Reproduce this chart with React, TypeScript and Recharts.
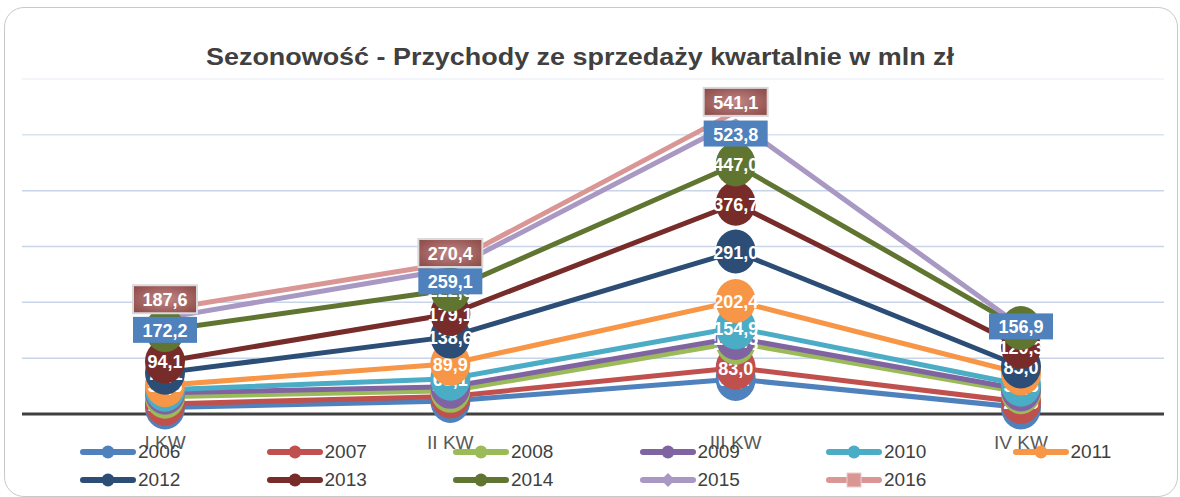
import React from "react";
import { LineChart, Line, XAxis, YAxis, CartesianGrid, LabelList } from "recharts";

const quarters = ["I KW", "II KW", "III KW", "IV KW"];
const years = ["2006", "2007", "2008", "2009", "2010", "2011", "2012", "2013", "2014", "2015", "2016"];
const colors = ["#4F81BD", "#C0504D", "#9BBB59", "#8064A2", "#4BACC6", "#F79646", "#2C4D75", "#772C2A", "#5F7530", "#A898C3", "#D99694"];

const v2006 = [11.6, 23.4, 62.7, 11.8];
const v2007 = [18.0, 31.5, 83.0, 21.5];
const v2008 = [31.0, 41.5, 127.8, 39.0];
const v2009 = [38.0, 48.7, 136.3, 44.0];
const v2010 = [43.5, 63.1, 154.9, 52.5];
const v2011 = [51.6, 89.9, 202.4, 72.6];
const v2012 = [74.1, 138.6, 291.0, 85.0];
const v2013 = [94.1, 179.1, 376.7, 120.3];
const v2014 = [150.3, 222.5, 447.0, 154.0];
const v2015 = [172.2, 259.1, 523.8, 156.9];
const v2016 = [187.6, 270.4, 541.1, null];

const series = [v2006, v2007, v2008, v2009, v2010, v2011, v2012, v2013, v2014, v2015, v2016];

const data = quarters.map((q, i) => {
    const row: any = { q };
    years.forEach((y, s) => { row["y" + y] = series[s][i]; });
    return row;
});

const FONT = "'Liberation Sans', Arial, sans-serif";

const fmt = (v: number) => v.toFixed(1).replace(".", ",");

const makeLabel = (year: string, color: string) => (props: any) => {
    const { x, y, value, index } = props;
    if (value == null || x == null || y == null) return null;
    const text = fmt(Number(value));
    if (year === "2016") {
        const gid = `g2016-${index}`;
        const cy = y - 10;
        return (
            <g>
                <defs>
                    <radialGradient id={gid} cx="50%" cy="50%" r="70%">
                        <stop offset="0%" stopColor="#c08886" />
                        <stop offset="100%" stopColor="#8a4644" />
                    </radialGradient>
                </defs>
                <rect x={x - 32} y={cy - 14} width={64} height={28} fill={`url(#${gid})`} stroke="#d9d9d9" strokeWidth={2} />
                <text x={x} y={cy + 1} textAnchor="middle" dominantBaseline="central" fill="#fff" fontWeight="bold" fontSize={18} fontFamily={FONT}>{text}</text>
            </g>
        );
    }
    if (year === "2015") {
        const cy = index === 3 ? y : y + 12;
        return (
            <g>
                <rect x={x - 32} y={cy - 13} width={64} height={26} fill="#4F81BD" />
                <text x={x} y={cy + 1} textAnchor="middle" dominantBaseline="central" fill="#fff" fontWeight="bold" fontSize={18} fontFamily={FONT}>{text}</text>
            </g>
        );
    }
    return (
        <g>
            <ellipse cx={x} cy={y} rx={20} ry={22} fill={color} />
            <text x={x} y={y + 1} textAnchor="middle" dominantBaseline="central" fill="#fff" fontWeight="bold" fontSize={18} fontFamily={FONT}>{text}</text>
        </g>
    );
};

const GridLine = (props: any) => {
    const { x1, x2, y1 } = props;
    const stroke = y1 < 95 ? "#eef2f8" : y1 < 150 ? "#dbe3ef" : y1 > 405 ? "none" : "#c8d5e8";
    return <line x1={x1} x2={x2} y1={y1} y2={y1} stroke={stroke} strokeWidth={1.5} />;
};

const QuarterTick = (props: any) => {
    const { x, y, payload } = props;
    return (
        <text x={x} y={y + 27} textAnchor="middle" fill="#595959" fontSize={19} fontFamily={FONT}>{payload.value}</text>
    );
};

const LegendIcon = ({ year, color }: { year: string; color: string }) => (
    <svg width={56} height={16} style={{ display: "block" }}>
        <line x1={3} x2={53} y1={8} y2={8} stroke={color} strokeWidth={6} strokeLinecap="round" />
        {year === "2015" ? (
            <polygon points="28,1 35,8 28,15 21,8" fill={color} />
        ) : year === "2016" ? (
            <rect x={21} y={1} width={14} height={14} fill={color} stroke="#ecc" strokeWidth={1} />
        ) : (
            <circle cx={28} cy={8} r={6.5} fill={color} />
        )}
    </svg>
);

export default function App() {
    return (
        <div style={{ position: "absolute", left: 0, top: 0, width: 1180, height: 497, background: "#fff", overflow: "hidden", fontFamily: FONT }}>
            <div style={{ position: "absolute", left: 4, top: 7, width: 1172, height: 488, border: "1.5px solid #c9c9c9", borderRadius: 20 }} />
            <svg width={1180} height={80} style={{ position: "absolute", left: 0, top: 0 }}>
                <text x={580} y={65} textAnchor="middle" fill="#404040" fontSize={24} fontWeight="bold" fontFamily={FONT} textLength={748} lengthAdjust="spacingAndGlyphs">
                    Sezonowość  - Przychody ze sprzedaży kwartalnie w mln zł
                </text>
            </svg>
            <div style={{ position: "absolute", left: 0, top: 0 }}>
                <LineChart width={1180} height={497} data={data} margin={{ top: 79, right: 16, left: 22, bottom: 53 }}>
                    <CartesianGrid vertical={false} horizontal={<GridLine />} />
                    <YAxis hide domain={[0, 600]} ticks={[0, 100, 200, 300, 400, 500, 600]} />
                    <XAxis
                        dataKey="q"
                        padding={{ left: 143, right: 143 }}
                        axisLine={{ stroke: "#404040", strokeWidth: 3 }}
                        tickLine={false}
                        tick={<QuarterTick />}
                        height={30}
                    />
                    {years.map((y, s) => (
                        <Line
                            key={"l" + y}
                            dataKey={"y" + y}
                            stroke={colors[s]}
                            strokeWidth={5}
                            dot={false}
                            activeDot={false}
                            isAnimationActive={false}
                        />
                    ))}
                    {years.map((y, s) => (
                        <Line
                            key={"t" + y}
                            dataKey={"y" + y}
                            stroke="none"
                            dot={false}
                            activeDot={false}
                            legendType="none"
                            isAnimationActive={false}
                        >
                            <LabelList dataKey={"y" + y} content={makeLabel(y, colors[s])} />
                        </Line>
                    ))}
                </LineChart>
            </div>
            {years.map((y, s) => {
                const col = s % 6;
                const row = Math.floor(s / 6);
                return (
                    <div key={"lg" + y} style={{ position: "absolute", left: 80 + col * 186.5, top: 441 + row * 28, display: "flex", alignItems: "center", height: 22 }}>
                        <LegendIcon year={y} color={colors[s]} />
                        <span style={{ marginLeft: 2, fontSize: 19, color: "#404040", lineHeight: "22px" }}>{y}</span>
                    </div>
                );
            })}
        </div>
    );
}
